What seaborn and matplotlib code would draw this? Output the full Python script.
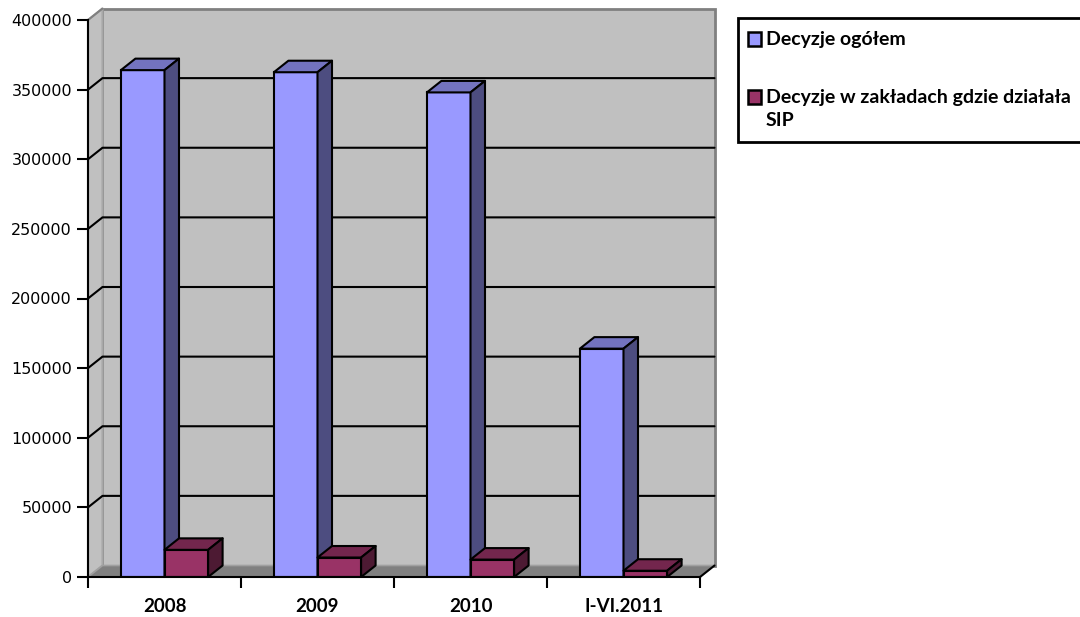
import numpy as np
import pandas as pd
import matplotlib
matplotlib.use("Agg")
import matplotlib.pyplot as plt
from matplotlib.patches import Polygon, Rectangle
from matplotlib.lines import Line2D
import matplotlib.colors as mcolors
import seaborn as sns

# ---- data ----
categories = ["2008", "2009", "2010", "I-VI.2011"]
series_names = ["Decyzje ogółem", "Decyzje w zakładach gdzie działała\nSIP"]
decyzje_ogolem = [364000, 362500, 348000, 164000]
decyzje_sip = [19500, 14000, 12500, 4500]
y_ticks = [0, 50000, 100000, 150000, 200000, 250000, 300000, 350000, 400000]
colors = ["#9999FF", "#993366"]

df = pd.DataFrame({
    "Rok": categories * 2,
    "Wartość": decyzje_ogolem + decyzje_sip,
    "Seria": [series_names[0]] * len(categories) + [series_names[1]] * len(categories),
})

sns.set_style("ticks")
plt.rcParams["font.family"] = ["DejaVu Sans"]

W, H = 1080, 617
fig = plt.figure(figsize=(W / 100, H / 100), dpi=100)
ax = fig.add_axes([88 / W, (H - 577) / H, 612 / W, (577 - 20) / H])
ax.set_facecolor("none")

sns.barplot(data=df, x="Rok", y="Wartość", hue="Seria", palette=colors,
            saturation=1, width=0.57, gap=0, edgecolor="black", linewidth=1.5,
            legend=False, ax=ax, zorder=3)

ax.set_xlim(-0.5, len(categories) - 0.5)
ax.set_ylim(0, y_ticks[-1])
ax.set_xlabel("")
ax.set_ylabel("")

# depth offset in display pixels
DX, DY = 14.5, 11.5


def off(x, y):
    d = ax.transData.transform((x, y)) + np.array([DX, DY])
    return tuple(ax.transData.inverted().transform(d))


x_lo, x_hi = ax.get_xlim()
y_lo, y_hi = ax.get_ylim()

# back wall
bw0 = off(x_lo, y_lo)
bw1 = off(x_hi, y_hi)
ax.add_patch(Polygon([bw0, (bw1[0], bw0[1]), bw1, (bw0[0], bw1[1])], closed=True,
                     facecolor="#C0C0C0", edgecolor="#808080", lw=2, zorder=0.5,
                     clip_on=False))
# left side wall
ax.add_patch(Polygon([(x_lo, y_lo), (x_lo, y_hi), off(x_lo, y_hi), off(x_lo, y_lo)],
                     closed=True, facecolor="#C0C0C0", edgecolor="#A8A8A8", lw=1.5,
                     zorder=0.6, clip_on=False))
# floor
ax.add_patch(Polygon([(x_lo, y_lo), (x_hi, y_lo), off(x_hi, y_lo), off(x_lo, y_lo)],
                     closed=True, facecolor="#808080", edgecolor="#A0A0A0", lw=1.2,
                     zorder=0.7, clip_on=False))
ax.add_line(Line2D([x_hi, off(x_hi, y_lo)[0]], [y_lo, off(x_hi, y_lo)[1]],
                   color="black", lw=1.5, zorder=0.8, clip_on=False))

# gridlines on walls
for v in y_ticks[1:-1]:
    p1 = off(x_lo, v)
    p2 = off(x_hi, v)
    ax.add_line(Line2D([x_lo, p1[0], p2[0]], [v, p1[1], p2[1]], color="black",
                       lw=1.5, zorder=0.9, clip_on=False))
pt = off(x_lo, y_hi)
ax.add_line(Line2D([x_lo, pt[0]], [y_hi, pt[1]], color="#808080", lw=1.5,
                   zorder=0.9, clip_on=False))

# 3D bars: tops and sides
bars = sorted([p for p in ax.patches if isinstance(p, Rectangle)], key=lambda p: p.get_x())
for i, p in enumerate(bars):
    z = 3 + i * 0.1
    p.set_zorder(z)
    x0, w, h = p.get_x(), p.get_width(), p.get_height()
    fc = np.array(mcolors.to_rgb(p.get_facecolor()))
    top = [(x0, h), (x0 + w, h), off(x0 + w, h), off(x0, h)]
    side = [(x0 + w, 0), (x0 + w, h), off(x0 + w, h), off(x0 + w, 0)]
    ax.add_patch(Polygon(top, closed=True, facecolor=fc * 0.75, edgecolor="black",
                         lw=1.5, zorder=z + 0.01, clip_on=False, joinstyle="round"))
    ax.add_patch(Polygon(side, closed=True, facecolor=fc * 0.5, edgecolor="black",
                         lw=1.5, zorder=z + 0.02, clip_on=False, joinstyle="round"))

# axes styling
for s in ["top", "right"]:
    ax.spines[s].set_visible(False)
for s in ["left", "bottom"]:
    ax.spines[s].set_color("black")
    ax.spines[s].set_linewidth(1.5)
    ax.spines[s].set_zorder(10)

ax.set_yticks(y_ticks)
ax.set_yticklabels([str(v) for v in y_ticks])
ax.tick_params(axis="y", which="major", direction="out", length=8, width=1.5,
               color="black", pad=3.5, labelsize=11.5, labelcolor="black", left=True)
ax.set_xticks(range(len(categories)))
ax.set_xticklabels(categories)
ax.set_xticks(np.arange(-0.5, len(categories), 1.0), minor=True)
ax.tick_params(axis="x", which="major", length=0, pad=15)
ax.tick_params(axis="x", which="minor", direction="out", length=8, width=1.5,
               color="black", bottom=True)
for t in ax.get_xticklabels():
    t.set_fontfamily(["Lato", "DejaVu Sans"])
    t.set_fontweight("bold")
    t.set_fontsize(13.5)
    t.set_color("black")

# legend (drawn as a boxed key on the right)
def fx(px):
    return px / W


def fy(py):
    return 1 - py / H


fig.add_artist(Rectangle((fx(738), fy(142)), fx(1090) - fx(738), fy(18) - fy(142),
                         transform=fig.transFigure, facecolor="white", edgecolor="black",
                         lw=2, clip_on=False))
leg_y = [39, 97]
for name, col, yy in zip(series_names, colors, leg_y):
    fig.add_artist(Rectangle((fx(748), fy(yy + 6.5)), fx(761) - fx(748), fy(yy - 6.5) - fy(yy + 6.5),
                             transform=fig.transFigure, facecolor=col, edgecolor="black",
                             lw=1.8))
    fig.text(fx(766), fy(yy - 8), name, ha="left", va="top", fontsize=14,
             fontweight="bold", family=["Lato", "DejaVu Sans"], linespacing=1.45,
             color="black")

fig.savefig("out.png", dpi=100)
